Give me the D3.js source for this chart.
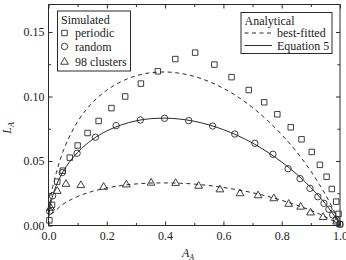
<!DOCTYPE html>
<html>
<head>
<meta charset="utf-8">
<script src="https://cdn.jsdelivr.net/npm/d3@7"></script>
<style>
body{margin:0;background:#fff}
text{font-family:"Liberation Serif","Times New Roman",serif;fill:#222}
</style>
</head>
<body>
<div id="Canvas"></div>
<script>
// 模擬資料 periodic
let periodicA = [0.003,0.012,0.03,0.049,0.073,0.10,0.134,0.172,0.216,0.263,0.317,0.375,0.435,0.503,0.569,0.628,0.687,0.740,0.785,0.831,0.868,0.903,0.931,0.954,0.972,0.987,0.995,1.0]
let periodicL = [0.004,0.016,0.034,0.0425,0.0526,0.062,0.0717,0.081,0.091,0.100,0.110,0.1195,0.129,0.134,0.1247,0.115,0.105,0.0955,0.0862,0.0761,0.0668,0.057,0.047,0.0378,0.0283,0.0185,0.009,0.001]
// random
let randomA = [0.004,0.014,0.047,0.098,0.161,0.232,0.315,0.398,0.481,0.563,0.639,0.708,0.770,0.822,0.863,0.897,0.924,0.945,0.962,0.975,0.987,1.0]
let randomL = [0.011,0.023,0.041,0.056,0.0684,0.0774,0.0818,0.0831,0.0813,0.0771,0.0709,0.0637,0.0552,0.044,0.0363,0.0288,0.0223,0.0172,0.0126,0.0081,0.0048,0.001]
// 98 clusters
let clusterA = [0.007,0.03,0.06,0.111,0.189,0.267,0.352,0.436,0.515,0.588,0.657,0.719,0.773,0.824,0.865,0.899,0.942,0.988]
let clusterL = [0.014,0.027,0.0325,0.0315,0.0302,0.032,0.0334,0.0332,0.031,0.0282,0.0252,0.0236,0.0213,0.017,0.0148,0.0103,0.0068,0.0033]
// Equation 5 曲線
let eqA = [0.001,0.005,0.01,0.02,0.04,0.06,0.08,0.1,0.15,0.2,0.25,0.3,0.35,0.4,0.45,0.5,0.55,0.6,0.65,0.7,0.75,0.8,0.85,0.9,0.93,0.95,0.97,0.99,1.0]
let eqL = [0.0061,0.0137,0.0193,0.0270,0.0376,0.0454,0.0515,0.0567,0.0665,0.0733,0.0780,0.0811,0.0828,0.0832,0.0825,0.0808,0.0780,0.0743,0.0696,0.0639,0.0571,0.0492,0.0401,0.0294,0.0221,0.0168,0.0109,0.0042,0]
// best-fitted (上面那條)
let fitHighA = [0.005,0.01,0.02,0.04,0.06,0.08,0.1,0.15,0.2,0.25,0.3,0.35,0.4,0.45,0.5,0.55,0.6,0.65,0.7,0.75,0.8,0.85,0.9,0.93,0.95,0.97,0.99,1.0]
let fitHighL = [0.017,0.025,0.035,0.051,0.063,0.0725,0.0805,0.0951,0.1049,0.1116,0.1160,0.1184,0.1190,0.1180,0.1156,0.1116,0.1063,0.0996,0.0914,0.0817,0.0704,0.0574,0.0421,0.0316,0.0240,0.0156,0.0060,0]
// best-fitted (下面那條)
let fitLowA = [0.008,0.02,0.04,0.06,0.08,0.1,0.15,0.2,0.25,0.3,0.35,0.4,0.45,0.5,0.55,0.6,0.65,0.7,0.75,0.8,0.85,0.9,0.93,0.95,0.97,0.99,1.0]
let fitLowL = [0.009,0.0107,0.0149,0.0180,0.0204,0.0225,0.0264,0.0291,0.0310,0.0322,0.0329,0.0330,0.0328,0.0321,0.0310,0.0295,0.0276,0.0254,0.0227,0.0195,0.0159,0.0117,0.0088,0.0067,0.0043,0.0017,0]
// 刻度
let xTicks = [0,0.2,0.4,0.6,0.8,1.0]
let yTicks = [0,0.05,0.10,0.15]
let xMinor = [0.1,0.3,0.5,0.7,0.9]
let yMinor = [0.025,0.075,0.125]

let zip = (a,b)=>a.map((d,i)=>({x:d,y:b[i]}))

let svg = d3.select("#Canvas")
    .append("svg")
    .attr("width",346)
    .attr("height",260)

let xScale = d3.scaleLinear().domain([0,1]).range([48.5,340])
let yScale = d3.scaleLinear().domain([0,0.1713]).range([225.5,4.5])
let ink = "#2a2a2a"

//外框
svg.append("rect")
    .attr("x",xScale(0)).attr("y",yScale(0.1713))
    .attr("width",xScale(1)-xScale(0)).attr("height",yScale(0)-yScale(0.1713))
    .attr("fill","none").attr("stroke",ink).attr("stroke-width",1)

//座標軸 (刻度朝內)
function styleAxis(g){
    g.select(".domain").remove()
    g.selectAll("line").attr("stroke",ink)
    g.selectAll("text").attr("font-size",12).attr("fill",ink)
        .attr("font-family","Liberation Serif, serif")
}
svg.append("g").attr("transform",`translate(0,${yScale(0)})`)
    .call(d3.axisBottom(xScale).tickValues(xTicks).tickFormat(d3.format(".1f")).tickSize(-4).tickPadding(6))
    .call(styleAxis)
svg.append("g").attr("transform",`translate(0,${yScale(0)})`)
    .call(d3.axisBottom(xScale).tickValues(xMinor).tickFormat("").tickSize(-2.5))
    .call(styleAxis)
svg.append("g").attr("transform",`translate(0,${yScale(0.1713)})`)
    .call(d3.axisTop(xScale).tickValues(xTicks).tickFormat("").tickSize(-4))
    .call(styleAxis)
svg.append("g").attr("transform",`translate(0,${yScale(0.1713)})`)
    .call(d3.axisTop(xScale).tickValues(xMinor).tickFormat("").tickSize(-2.5))
    .call(styleAxis)
svg.append("g").attr("transform",`translate(${xScale(0)},0)`)
    .call(d3.axisLeft(yScale).tickValues(yTicks).tickFormat(d3.format(".2f")).tickSize(-4).tickPadding(4))
    .call(styleAxis)
svg.append("g").attr("transform",`translate(${xScale(0)},0)`)
    .call(d3.axisLeft(yScale).tickValues(yMinor).tickFormat("").tickSize(-2.5))
    .call(styleAxis)
svg.append("g").attr("transform",`translate(${xScale(1)},0)`)
    .call(d3.axisRight(yScale).tickValues(yTicks).tickFormat("").tickSize(-4))
    .call(styleAxis)
svg.append("g").attr("transform",`translate(${xScale(1)},0)`)
    .call(d3.axisRight(yScale).tickValues(yMinor).tickFormat("").tickSize(-2.5))
    .call(styleAxis)

//軸標題
let xl = svg.append("text").attr("x",188).attr("y",257).attr("text-anchor","middle")
    .attr("font-size",12).attr("font-style","italic")
xl.append("tspan").text("A")
xl.append("tspan").attr("font-size",8).attr("dy",2.5).text("A")
let yl = svg.append("text").attr("transform","translate(11,128) rotate(-90)").attr("text-anchor","middle")
    .attr("font-size",12).attr("font-style","italic")
yl.append("tspan").text("L")
yl.append("tspan").attr("font-size",8).attr("dy",2.5).text("A")

//曲線
let line = d3.line().x(d=>xScale(d.x)).y(d=>yScale(d.y)).curve(d3.curveMonotoneX)
svg.append("path").datum(zip(fitHighA,fitHighL)).attr("d",line)
    .attr("fill","none").attr("stroke",ink).attr("stroke-width",1).attr("stroke-dasharray","4,3.5")
svg.append("path").datum(zip(fitLowA,fitLowL)).attr("d",line)
    .attr("fill","none").attr("stroke",ink).attr("stroke-width",1).attr("stroke-dasharray","4,3.5")
svg.append("path").datum(zip(eqA,eqL)).attr("d",line)
    .attr("fill","none").attr("stroke",ink).attr("stroke-width",1)

//標記
let sq = d3.symbol().type(d3.symbolSquare).size(30)
let tri = d3.symbol().type(d3.symbolTriangle).size(26)
svg.append("g").selectAll("path").data(zip(periodicA,periodicL)).enter().append("path")
    .attr("d",sq).attr("transform",d=>`translate(${xScale(d.x)},${yScale(d.y)})`)
    .attr("fill","none").attr("stroke",ink).attr("stroke-width",0.9)
svg.append("g").selectAll("circle").data(zip(randomA,randomL)).enter().append("circle")
    .attr("cx",d=>xScale(d.x)).attr("cy",d=>yScale(d.y)).attr("r",3.2)
    .attr("fill","none").attr("stroke",ink).attr("stroke-width",0.9)
svg.append("g").selectAll("path").data(zip(clusterA,clusterL)).enter().append("path")
    .attr("d",tri).attr("transform",d=>`translate(${xScale(d.x)},${yScale(d.y)+0.5})`)
    .attr("fill","none").attr("stroke",ink).attr("stroke-width",0.9)

//圖例 Simulated
let lg1 = svg.append("g")
lg1.append("rect").attr("x",57.5).attr("y",11).attr("width",73).attr("height",60)
    .attr("fill","#fff").attr("stroke",ink).attr("stroke-width",1)
lg1.append("text").attr("x",61).attr("y",24).attr("font-size",12).text("Simulated")
lg1.append("path").attr("d",sq).attr("transform","translate(64.5,33)")
    .attr("fill","none").attr("stroke",ink).attr("stroke-width",0.9)
lg1.append("circle").attr("cx",64.5).attr("cy",46.5).attr("r",3.2)
    .attr("fill","none").attr("stroke",ink).attr("stroke-width",0.9)
lg1.append("path").attr("d",tri).attr("transform","translate(64.5,62)")
    .attr("fill","none").attr("stroke",ink).attr("stroke-width",0.9)
lg1.append("text").attr("x",75).attr("y",37).attr("font-size",12).text("periodic")
lg1.append("text").attr("x",75).attr("y",51).attr("font-size",12).text("random")
lg1.append("text").attr("x",75).attr("y",66).attr("font-size",12).text("98 clusters")

//圖例 Analytical
let lg2 = svg.append("g")
lg2.append("rect").attr("x",241).attr("y",12.5).attr("width",91).attr("height",41)
    .attr("fill","#fff").attr("stroke",ink).attr("stroke-width",1)
lg2.append("text").attr("x",244.5).attr("y",25).attr("font-size",12).text("Analytical")
lg2.append("line").attr("x1",244.5).attr("x2",272).attr("y1",33).attr("y2",33)
    .attr("stroke",ink).attr("stroke-width",1).attr("stroke-dasharray","4,3.5")
lg2.append("line").attr("x1",244.5).attr("x2",272).attr("y1",45.5).attr("y2",45.5)
    .attr("stroke",ink).attr("stroke-width",1)
lg2.append("text").attr("x",277).attr("y",37).attr("font-size",12).text("best-fitted")
lg2.append("text").attr("x",277).attr("y",49.5).attr("font-size",12).text("Equation 5")
</script>
</body>
</html>
